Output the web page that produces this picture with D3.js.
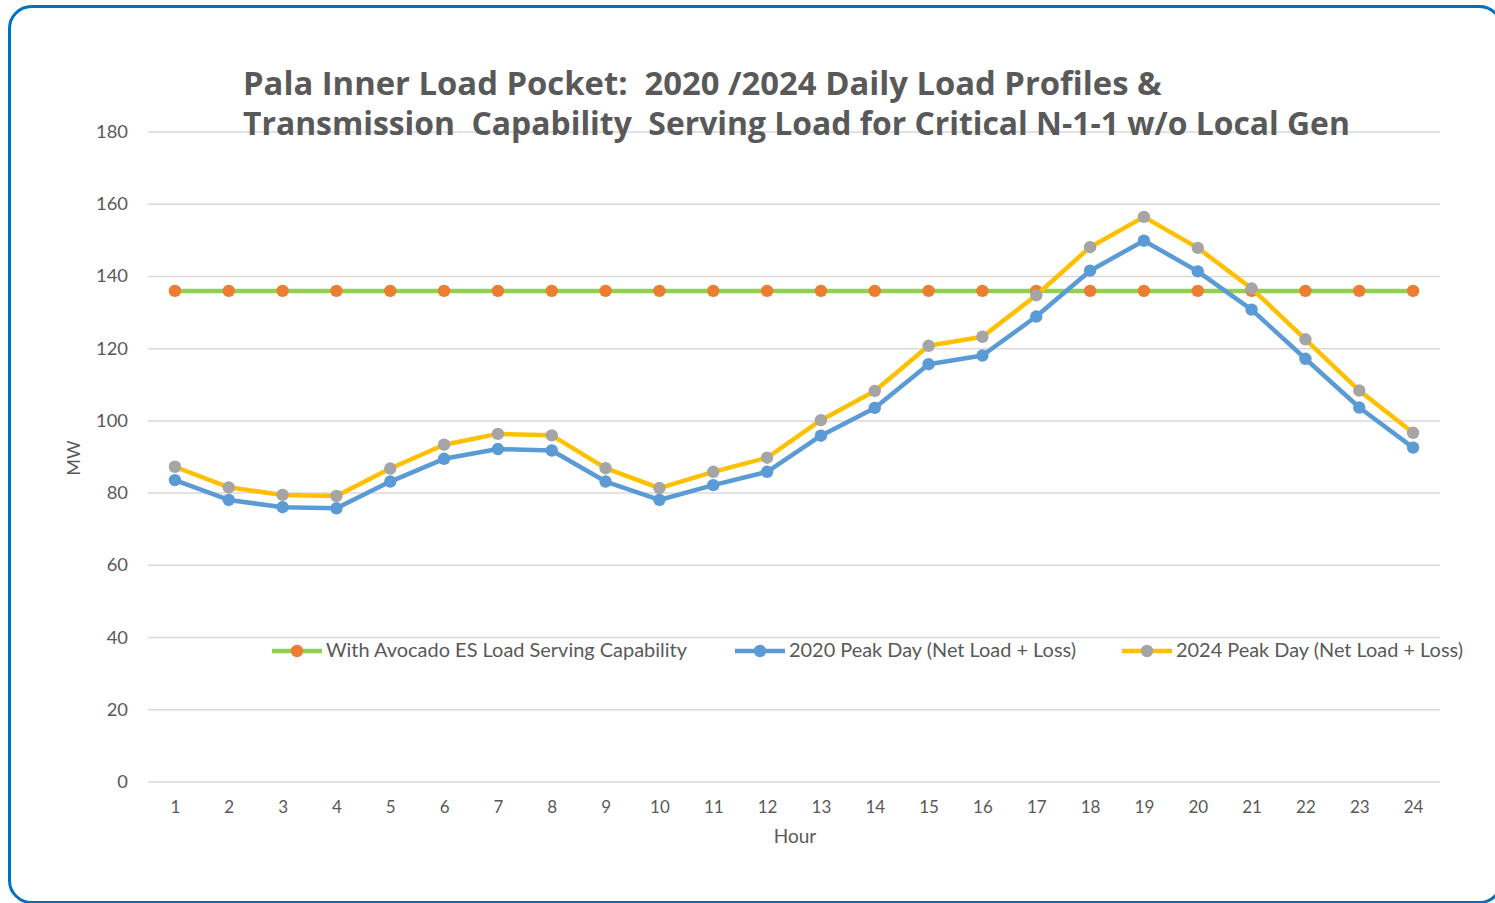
<!DOCTYPE html>
<html>
<head>
<meta charset="utf-8">
<script src="https://cdn.jsdelivr.net/npm/d3@7"></script>
<style>
html,body{margin:0;padding:0;background:#fff;}
svg{display:block;}
</style>
</head>
<body>
<svg id="chart" width="1495" height="903"></svg>
<script>
const hours = ["1","2","3","4","5","6","7","8","9","10","11","12","13","14","15","16","17","18","19","20","21","22","23","24"];
const capability = [136,136,136,136,136,136,136,136,136,136,136,136,136,136,136,136,136,136,136,136,136,136,136,136];
const peak2020 = [83.6,78.1,76.1,75.8,83.2,89.5,92.2,91.8,83.2,78.1,82.2,85.9,95.9,103.6,115.7,118.1,128.9,141.6,149.9,141.4,130.8,117.2,103.7,92.6];
const peak2024 = [87.3,81.6,79.5,79.2,86.8,93.4,96.4,96.0,86.9,81.4,85.9,89.8,100.2,108.3,120.8,123.3,134.8,148.1,156.5,147.9,136.7,122.6,108.4,96.7];
const yTicks = [0,20,40,60,80,100,120,140,160,180];
const seriesNames = ["With Avocado ES Load Serving Capability","2020 Peak Day (Net Load + Loss)","2024 Peak Day (Net Load + Loss)"];
const titleLines = ["Pala Inner Load Pocket:  2020 /2024 Daily Load Profiles &","Transmission  Capability  Serving Load for Critical N-1-1 w/o Local Gen"];

(function(){
const series = [
  {name: seriesNames[0], values: capability, line: "#92D050", marker: "#ED7D31"},
  {name: seriesNames[1], values: peak2020, line: "#5B9BD5", marker: "#5B9BD5"},
  {name: seriesNames[2], values: peak2024, line: "#FFC000", marker: "#A5A5A5"}
];

const svg = d3.select("#chart");
const font = "Lato, 'Open Sans', sans-serif";
const textColor = "#595959";

// border
svg.append("rect").attr("x",9.5).attr("y",6.5).attr("width",1492).attr("height",896)
  .attr("rx",22).attr("fill","#fff").attr("stroke","#0070C0").attr("stroke-width",3);

const pLeft = 148, pRight = 1440, pTop = 132, pBottom = 782;
const x = d3.scalePoint().domain(hours).range([pLeft, pRight]).padding(0.5);
const y = d3.scaleLinear().domain([0,180]).range([pBottom, pTop]);

// gridlines
svg.append("g").selectAll("line").data(yTicks).join("line")
  .attr("x1",pLeft).attr("x2",pRight)
  .attr("y1",d=>y(d)).attr("y2",d=>y(d))
  .attr("stroke","#D9D9D9").attr("stroke-width",1.5);

// y axis
const yAxis = svg.append("g").attr("transform",`translate(${pLeft},0)`)
  .call(d3.axisLeft(y).tickValues(yTicks).tickSize(0).tickPadding(20));
yAxis.select(".domain").remove();
yAxis.selectAll("text").attr("font-family",font).attr("font-size",17).attr("fill",textColor)
  .attr("transform","scale(1.08,1)").attr("x", function(){ return -20/1.08; });

// x axis
const xAxis = svg.append("g").attr("transform",`translate(0,${pBottom})`)
  .call(d3.axisBottom(x).tickSize(0).tickPadding(19));
xAxis.select(".domain").remove();
xAxis.selectAll("text").attr("font-family",font).attr("font-size",17).attr("fill",textColor);

// axis titles
svg.append("text").attr("x",795).attr("y",843).attr("text-anchor","middle")
  .attr("font-family",font).attr("font-size",19).attr("fill",textColor).text("Hour");
svg.append("text").attr("transform","translate(80,458) rotate(-90)").attr("text-anchor","middle")
  .attr("font-family",font).attr("font-size",18).attr("fill",textColor).text("MW");

// lines
const line = d3.line().x((d,i)=>x(hours[i])).y(d=>y(d));
series.forEach(s=>{
  svg.append("path").datum(s.values).attr("d",line).attr("fill","none")
    .attr("stroke",s.line).attr("stroke-width",4.5).attr("stroke-linejoin","round");
  svg.append("g").selectAll("circle").data(s.values).join("circle")
    .attr("cx",(d,i)=>x(hours[i])).attr("cy",d=>y(d)).attr("r",6.2).attr("fill",s.marker);
});

// legend
const legX = [272, 735, 1122];
const legW = [361, 287, 287];
const legY = 651;
series.forEach((s,i)=>{
  const g = svg.append("g");
  g.append("line").attr("x1",legX[i]).attr("x2",legX[i]+50).attr("y1",legY).attr("y2",legY)
    .attr("stroke",s.line).attr("stroke-width",4.5);
  g.append("circle").attr("cx",legX[i]+25).attr("cy",legY).attr("r",6.2).attr("fill",s.marker);
  g.append("text").attr("x",legX[i]+54).attr("y",legY).attr("dy","0.35em")
    .attr("font-family",font).attr("font-size",18.5).attr("fill",textColor)
    .attr("textLength",legW[i]).attr("lengthAdjust","spacingAndGlyphs").text(s.name);
});

// title
const titleY = [95, 135];
const titleW = [919, 1107];
titleLines.forEach((t,i)=>{
  const tx = svg.append("text").attr("x",243).attr("y",titleY[i])
    .attr("font-family","'Open Sans', sans-serif").attr("font-weight","bold")
    .attr("font-size",30).attr("fill",textColor).attr("xml:space","preserve").style("white-space","pre").text(t);
  const w = tx.node().getComputedTextLength();
  tx.attr("font-size", 30*titleW[i]/w);
});
})();
</script>
</body>
</html>
